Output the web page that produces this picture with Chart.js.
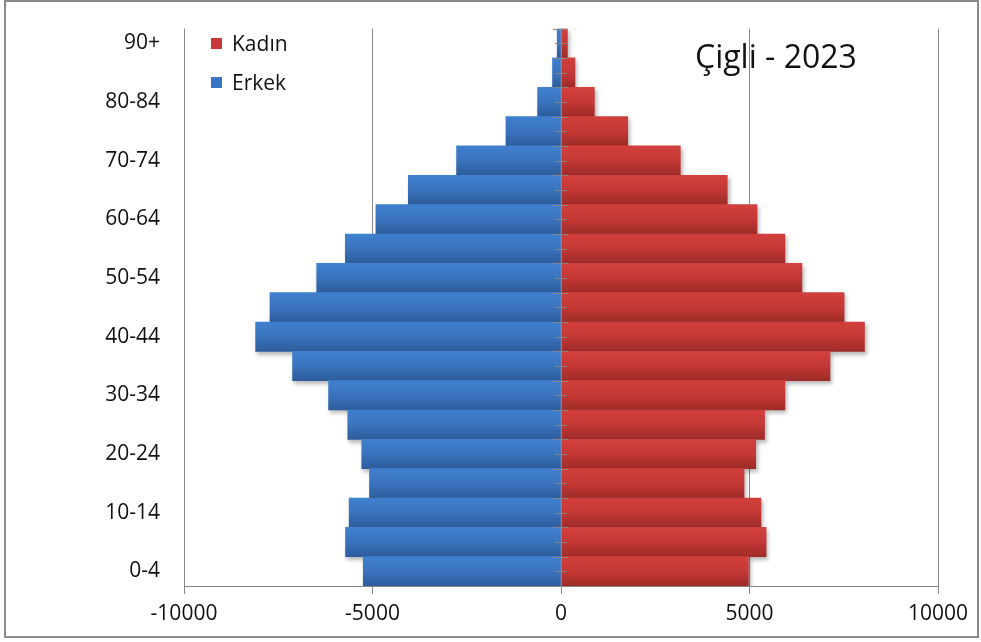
<!DOCTYPE html>
<html>
<head>
<meta charset="utf-8">
<script src="https://cdn.jsdelivr.net/npm/chart.js@4/dist/chart.umd.min.js"></script>
<style>
    body { margin: 0; background: #fff; }
    #wrap { position: relative; width: 981px; height: 642px; }
    #frame { position: absolute; left: 4px; top: 0; width: 975px; height: 638px; border: 2px solid #8a8a8a; box-sizing: border-box; pointer-events: none; }
    #title { position: absolute; left: 695px; top: 40px; font: 32px/1 "Open Sans", sans-serif; color: #111; white-space: nowrap; }
    .legendItem { position: absolute; left: 211px; font: 21px/1 "Open Sans", sans-serif; color: #111; white-space: nowrap; }
    .legendItem span { display: inline-block; width: 11px; height: 11px; margin-right: 10px; vertical-align: 2px; }
</style>
</head>
<body>
<div id="wrap">
    <canvas id="pyramid" width="981" height="642"></canvas>
    <div id="frame"></div>
    <div id="title">Çigli - 2023</div>
    <div id="legend"></div>
</div>
<script>
// == Data ==
const ageGroups = ["90+", "85-89", "80-84", "75-79", "70-74", "65-69", "60-64", "55-59", "50-54", "45-49",
    "40-44", "35-39", "30-34", "25-29", "20-24", "15-19", "10-14", "5-9", "0-4"];
const kadin = [170, 370, 885, 1770, 3165, 4410, 5200, 5940, 6390, 7510,
    8050, 7135, 5940, 5400, 5165, 4855, 5305, 5440, 4970];
const erkek = [100, 225, 620, 1460, 2770, 4050, 4910, 5720, 6480, 7720,
    8100, 7120, 6165, 5655, 5285, 5080, 5620, 5715, 5245];
const xTicks = [-10000, -5000, 0, 5000, 10000];

const gridColor = '#868686';
const tickFont = { family: 'Open Sans', size: 21 };

// == Utils ==
function barGradient(stops) {
    return function (context) {
        const chart = context.chart;
        const yScale = chart.scales.y;
        if (!chart.chartArea || !yScale || context.dataIndex === undefined) return stops[0];
        const step = Math.abs(yScale.getPixelForValue(1) - yScale.getPixelForValue(0));
        const mid = yScale.getPixelForValue(context.dataIndex);
        const g = chart.ctx.createLinearGradient(0, mid - step / 2, 0, mid + step / 2);
        g.addColorStop(0, stops[0]);
        g.addColorStop(0.5, stops[1]);
        g.addColorStop(1, stops[2]);
        return g;
    };
}

// shadow under the bars, then the zero line with its little ticks on top
const pyramidDecor = {
    id: 'pyramidDecor',
    beforeDatasetsDraw(chart) {
        const ctx = chart.ctx;
        ctx.save();
        ctx.shadowColor = 'rgba(0,0,0,0.28)';
        ctx.shadowBlur = 4;
        ctx.shadowOffsetX = 2;
        ctx.shadowOffsetY = 3;
    },
    afterDatasetsDraw(chart) {
        const ctx = chart.ctx;
        ctx.restore();
        const { top, bottom } = chart.chartArea;
        const x0 = chart.scales.x.getPixelForValue(0);
        const yScale = chart.scales.y;
        const step = Math.abs(yScale.getPixelForValue(1) - yScale.getPixelForValue(0));
        ctx.save();
        ctx.strokeStyle = gridColor;
        ctx.lineWidth = 1;
        ctx.beginPath();
        ctx.moveTo(Math.round(x0) + 0.5, top);
        ctx.lineTo(Math.round(x0) + 0.5, bottom);
        ageGroups.forEach((g, i) => {
            const mid = Math.round(yScale.getPixelForValue(i)) + 0.5;
            const edge = Math.round(yScale.getPixelForValue(i) - step / 2) + 0.5;
            ctx.moveTo(x0 - 8, edge);
            ctx.lineTo(x0 + 7, edge);
            ctx.moveTo(x0 - 6, mid);
            ctx.lineTo(x0 + 6, mid);
        });
        ctx.stroke();
        ctx.restore();
    }
};

// == Chart ==
const pyramid = new Chart(document.getElementById('pyramid'), {
    type: 'bar',
    plugins: [pyramidDecor],
    data: {
        labels: ageGroups,
        datasets: [
            {
                label: 'Kadın',
                data: kadin,
                backgroundColor: barGradient(['#D2403D', '#C33835', '#9E2B29']),
                legendColor: '#C9383A',
                borderWidth: 0
            },
            {
                label: 'Erkek',
                data: erkek.map(v => -v),
                backgroundColor: barGradient(['#4080CE', '#3A73BD', '#2D5C9A']),
                legendColor: '#3A74C4',
                borderWidth: 0
            }
        ]
    },
    options: {
        indexAxis: 'y',
        responsive: false,
        animation: false,
        devicePixelRatio: 1,
        barPercentage: 1,
        categoryPercentage: 1,
        layout: { padding: { top: 26, right: 43, bottom: 0, left: 0 } },
        plugins: {
            legend: { display: false },
            tooltip: { enabled: false }
        },
        scales: {
            x: {
                stacked: true,
                min: -10000,
                max: 10000,
                afterBuildTicks: scale => { scale.ticks = xTicks.map(v => ({ value: v })); },
                afterFit: scale => { scale.height = 56; },
                grid: { color: gridColor, lineWidth: 1, tickLength: 8, drawTicks: true },
                border: { color: gridColor, width: 1 },
                ticks: {
                    color: '#111',
                    font: tickFont,
                    padding: 7,
                    maxRotation: 0,
                    callback: value => String(value)
                }
            },
            y: {
                stacked: true,
                afterFit: scale => { scale.width = 184; },
                grid: { display: false },
                border: { display: false },
                ticks: {
                    color: '#111',
                    font: tickFont,
                    padding: 16,
                    autoSkip: false,
                    callback: function (value, index) {
                        return index % 2 === 0 ? this.getLabelForValue(value) : '';
                    }
                }
            }
        }
    }
});

// == Legend ==
document.getElementById('legend').innerHTML = pyramid.data.datasets.map((ds, i) => `
    <div class="legendItem" style="top:${33 + i * 39}px"><span style="background:${ds.legendColor}"></span>${ds.label}</div>
`).join('');
</script>
</body>
</html>
